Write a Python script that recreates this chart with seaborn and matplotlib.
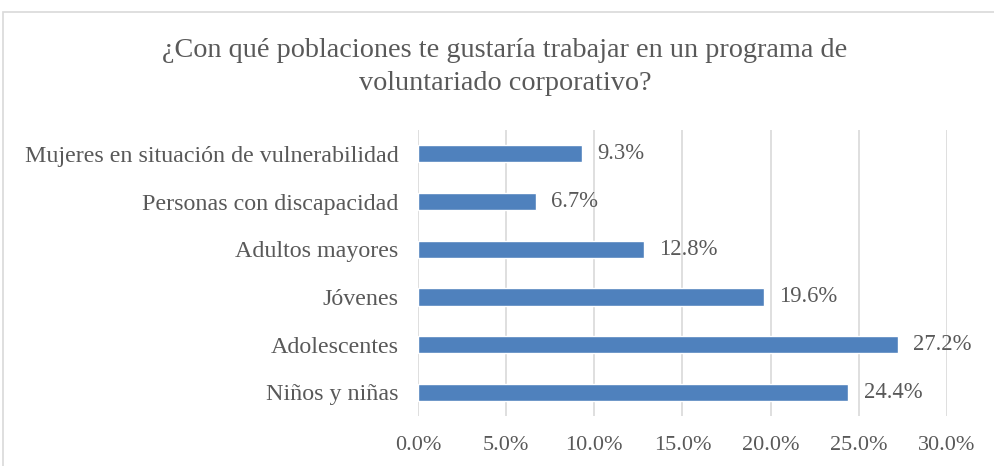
import matplotlib.pyplot as plt
import matplotlib.patches as mpatches
import seaborn as sns
import pandas as pd

# Data (top to bottom)
poblaciones = ['Mujeres en situación de vulnerabilidad', 'Personas con discapacidad',
               'Adultos mayores', 'Jóvenes', 'Adolescentes', 'Niños y niñas']
porcentajes = [9.3, 6.7, 12.8, 19.6, 27.2, 24.4]
xticks = [0, 5, 10, 15, 20, 25, 30]

df = pd.DataFrame({'poblacion': poblaciones, 'pct': porcentajes})

sns.set_style('white')
plt.rcParams['font.family'] = ['Liberation Serif', 'DejaVu Serif']
gris = '#595959'

fig = plt.figure(figsize=(9.94, 4.66), dpi=100)
ax = fig.add_axes([0.4205, 0.107, 0.5322, 0.614])

sns.barplot(data=df, x='pct', y='poblacion', orient='h', color='#4F81BD',
            saturation=1, width=0.36, ax=ax)

ax.set_xlim(0, 30)
ax.set_ylim(5.5, -0.5)
ax.set_xticks(xticks)
ax.set_xticklabels([f'{t:.1f}%' for t in xticks], fontsize=16, color=gris)
ax.tick_params(axis='y', labelsize=17.3, labelcolor=gris, length=0, pad=14)
ax.tick_params(axis='x', length=0, pad=14)
ax.set_xlabel('')
ax.set_ylabel('')
ax.grid(axis='x', color='#D9D9D9', linewidth=1.2)
ax.set_axisbelow(True)
for s in ax.spines.values():
    s.set_visible(False)

for i, v in enumerate(porcentajes):
    ax.annotate(f'{v:.1f}%', (v, i), xytext=(11, 0), textcoords='offset points',
                va='center', ha='left', fontsize=16.3, color=gris)

fig.text(0.508, 0.856, '¿Con qué poblaciones te gustaría trabajar en un programa de\nvoluntariado corporativo?',
         ha='center', va='center', fontsize=20.3, color=gris, linespacing=1.4)

# chart border like the Excel frame
fig.patches.append(mpatches.Rectangle((3 / 994, -0.1), 1.2, 1 - 12 / 466 + 0.1,
                                      transform=fig.transFigure, fill=False,
                                      edgecolor='#D9D9D9', linewidth=1.2))

fig.savefig('out.png', dpi=100)
